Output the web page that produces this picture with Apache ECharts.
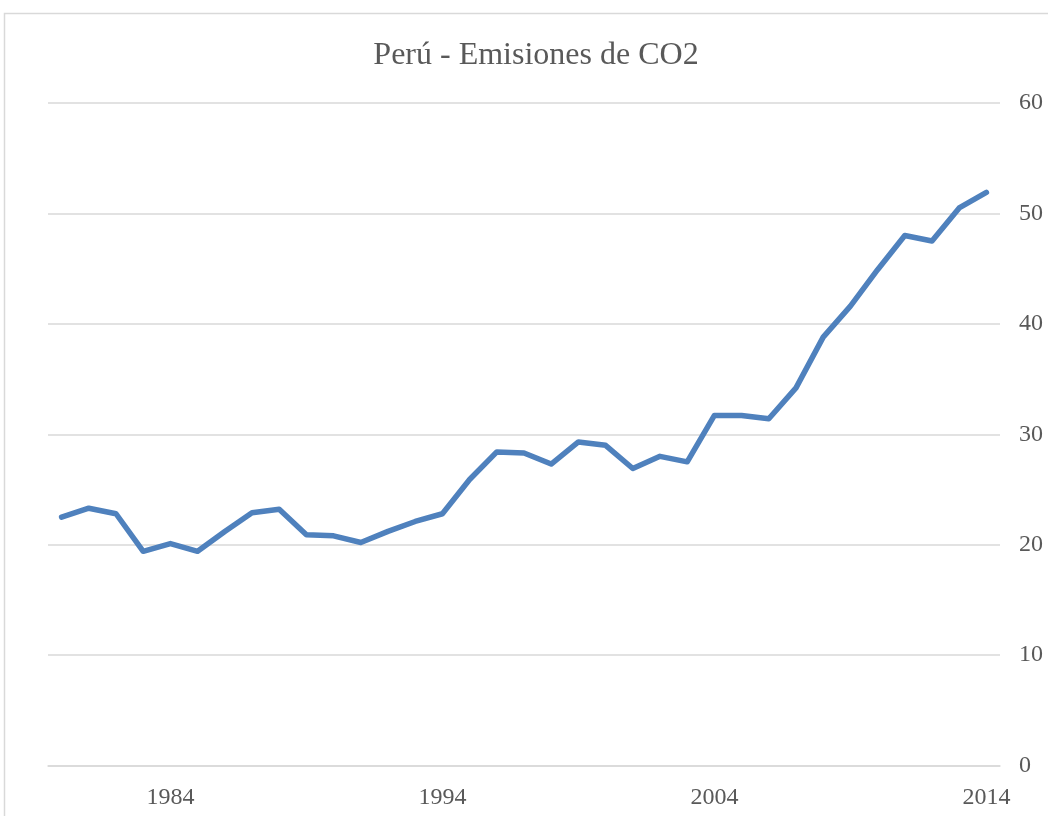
<!DOCTYPE html>
<html>
<head>
<meta charset="utf-8">
<title>Perú - Emisiones de CO2</title>
<script src="https://cdn.jsdelivr.net/npm/echarts@6/dist/echarts.min.js"></script>
<style>
  html, body { margin: 0; padding: 0; background: #ffffff; }
  #chart { width: 1048px; height: 816px; }
</style>
</head>
<body>
<div id="chart"></div>
<script>
// Años (1980–2014)
const years = [
  '1980','1981','1982','1983','1984','1985','1986','1987','1988','1989',
  '1990','1991','1992','1993','1994','1995','1996','1997','1998','1999',
  '2000','2001','2002','2003','2004','2005','2006','2007','2008','2009',
  '2010','2011','2012','2013','2014'
];

// Emisiones de CO2 (Mt)
const emissions = [
  22.5, 23.3, 22.8, 19.4, 20.1, 19.4, 21.2, 22.9, 23.2, 20.9,
  20.8, 20.2, 21.2, 22.1, 22.8, 25.9, 28.4, 28.3, 27.3, 29.3,
  29.0, 26.9, 28.0, 27.5, 31.7, 31.7, 31.4, 34.2, 38.8, 41.6,
  44.9, 48.0, 47.5, 50.5, 51.9
];

// Años con etiqueta en el eje horizontal
const labelledYears = ['1984', '1994', '2004', '2014'];

const TEXT = '#595959';
const GRID = '#d9d9d9';
const FONT = '"Liberation Serif", "Times New Roman", serif';

const chart = echarts.init(document.getElementById('chart'));

chart.setOption({
  backgroundColor: '#ffffff',
  animation: false,
  graphic: [{
    type: 'rect',
    shape: { x: 4.5, y: 13.5, width: 1100, height: 900 },
    style: { fill: 'none', stroke: GRID, lineWidth: 1.5 },
    silent: true
  }],
  title: {
    text: 'Perú - Emisiones de CO2',
    left: 531,
    textAlign: 'center',
    top: 35,
    textStyle: { fontFamily: FONT, fontSize: 32, fontWeight: 'normal', color: TEXT }
  },
  grid: { left: 48, right: 48, top: 103, bottom: 50.5, containLabel: false },
  xAxis: {
    type: 'category',
    data: years,
    boundaryGap: true,
    axisLine: { show: true, lineStyle: { color: GRID, width: 1.5 } },
    axisTick: { show: false },
    axisLabel: {
      interval: (i, v) => labelledYears.includes(v),
      margin: 20,
      fontFamily: FONT, fontSize: 24, color: TEXT
    }
  },
  yAxis: {
    type: 'value',
    position: 'right',
    min: 0, max: 60, interval: 10,
    axisLine: { show: false },
    axisTick: { show: false },
    splitLine: { lineStyle: { color: GRID, width: 1.5 } },
    axisLabel: { margin: 19, fontFamily: FONT, fontSize: 24, color: TEXT }
  },
  series: [{
    type: 'line',
    data: emissions,
    symbol: 'none',
    smooth: false,
    lineStyle: { color: '#4f81bd', width: 5.5, cap: 'round', join: 'round' }
  }]
});
</script>
</body>
</html>
